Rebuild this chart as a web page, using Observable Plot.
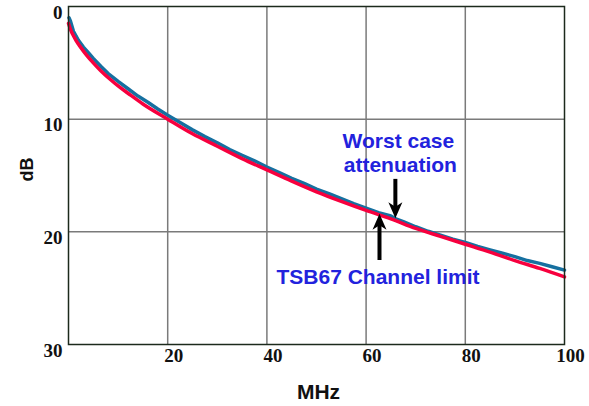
<!DOCTYPE html>
<html><head><meta charset="utf-8">
<script src="https://cdn.jsdelivr.net/npm/d3@7"></script>
<script src="https://cdn.jsdelivr.net/npm/@observablehq/plot@0.6"></script>
<style>body{margin:0;background:#fff}</style>
</head><body><div id="chart"></div>
<script>
const xTicks = [20, 40, 60, 80, 100];
const yTicks = [0, 10, 20, 30];
const gridX = [20, 40, 60, 80];
const gridY = [10, 20];

// TSB67 channel limit (red)
const limitMHz = [0, 0.5, 1, 1.5, 2.5, 3.8, 5, 6.5, 8.5, 10, 12, 15, 20, 25, 30, 35, 40, 45, 50, 55, 60, 65, 70, 75, 80, 85, 90, 95, 100];
const limitDB  = [1.5, 2.15, 2.6, 3.0, 3.65, 4.4, 5.0, 5.7, 6.5, 7.05, 7.7, 8.65, 10.0, 11.3, 12.4, 13.5, 14.5, 15.5, 16.45, 17.3, 18.1, 18.85, 19.7, 20.4, 21.1, 21.8, 22.55, 23.25, 24.0];

// Worst case measured attenuation (blue)
const measMHz = [0.1, 0.4, 1, 1.5, 2, 3, 4, 5, 6.5, 8, 10, 12, 14, 16, 18, 20, 22.5, 25, 27.5, 30, 32.5, 35, 37.5, 40, 42.5, 45, 47.5, 50, 52.5, 55, 57.5, 60, 62.5, 65, 66, 67.5, 70, 72.5, 75, 77.5, 80, 82.5, 85, 87.5, 90, 92.5, 95, 97.5, 100];
const measDB  = [1.0, 1.3, 2.2, 2.6, 3.0, 3.6, 4.1, 4.6, 5.3, 5.95, 6.65, 7.3, 7.95, 8.5, 9.1, 9.65, 10.3, 10.95, 11.55, 12.1, 12.7, 13.2, 13.7, 14.25, 14.75, 15.25, 15.7, 16.2, 16.6, 17.05, 17.5, 17.9, 18.3, 18.6, 18.85, 19.1, 19.55, 19.95, 20.3, 20.65, 20.95, 21.3, 21.6, 21.9, 22.2, 22.55, 22.8, 23.1, 23.4];

const noteText = ["Worst case", "attenuation", "TSB67 Channel limit"];
const noteMHz  = [66.5, 66.9, 62.4];
const noteDB   = [12.6, 14.7, 24.6];

const arrowMHz    = [65.9, 62.7];
const arrowFromDB = [15.3, 22.5];
const arrowToDB   = [18.8, 18.4];

const limit = limitMHz.map((f, i) => ({f, db: limitDB[i]}));
const meas = measMHz.map((f, i) => ({f, db: measDB[i]}));
const notes = noteText.map((t, i) => ({t, f: noteMHz[i], db: noteDB[i]}));
const arrows = arrowMHz.map((f, i) => ({f, from: arrowFromDB[i], to: arrowToDB[i], dir: Math.sign(arrowToDB[i] - arrowFromDB[i])}));

const head = {
  draw(ctx) {
    const L = 16, w = 14;
    ctx.moveTo(0, 0);
    ctx.lineTo(w / 2, L);
    ctx.lineTo(0, L * 0.72);
    ctx.lineTo(-w / 2, L);
    ctx.closePath();
  }
};

const serif = "'Liberation Serif', 'Times New Roman', serif";
const sans = "'Liberation Sans', Arial, sans-serif";

const chart = Plot.plot({
  width: 589,
  height: 406,
  marginLeft: 68,
  marginRight: 25,
  marginTop: 6,
  marginBottom: 62,
  x: {domain: [0, 100]},
  y: {domain: [0, 30], reverse: true},
  marks: [
    Plot.ruleX(gridX, {stroke: "#7a7a7a", strokeWidth: 1.5}),
    Plot.ruleY(gridY, {stroke: "#7a7a7a", strokeWidth: 1.5}),
    Plot.line(meas, {x: "f", y: "db", stroke: "#1670a0", strokeWidth: 3.5, curve: "linear"}),
    Plot.line(limit, {x: "f", y: "db", stroke: "#f7003e", strokeWidth: 3.5, curve: "monotone-x"}),
    Plot.frame({stroke: "#1c2a1c", strokeWidth: 1.5}),
    Plot.axisX(xTicks, {tickSize: 0, tickPadding: 4, dx: 6, label: null, fontSize: 19, fontWeight: "bold", fontFamily: serif, fill: "#111"}),
    Plot.axisY(yTicks, {tickSize: 0, tickPadding: 6, dy: 6, label: null, fontSize: 19, fontWeight: "bold", fontFamily: serif, fill: "#111"}),
    Plot.text(["dB"], {frameAnchor: "left", dx: -41, dy: 6, rotate: -90, fontSize: 18, fontWeight: "bold", fontFamily: sans, fill: "#111"}),
    Plot.text(["MHz"], {frameAnchor: "bottom", dy: 54, dx: 2, fontSize: 21, fontWeight: "bold", fontFamily: sans, fill: "#111"}),
    Plot.text(notes, {x: "f", y: "db", text: "t", lineAnchor: "bottom", fontSize: 21, fontWeight: "bold", fontFamily: sans, fill: "#2222dd"}),
    Plot.link(arrows, {x1: "f", x2: "f", y1: "from", y2: d => d.to - d.dir * 0.8, stroke: "#000", strokeWidth: 4}),
    Plot.dot(arrows, {x: "f", y: "to", symbol: head, r: 8, fill: "#000", stroke: "none", rotate: d => d.dir > 0 ? 180 : 0})
  ]
});
document.getElementById("chart").appendChild(chart);
</script>
</body></html>
